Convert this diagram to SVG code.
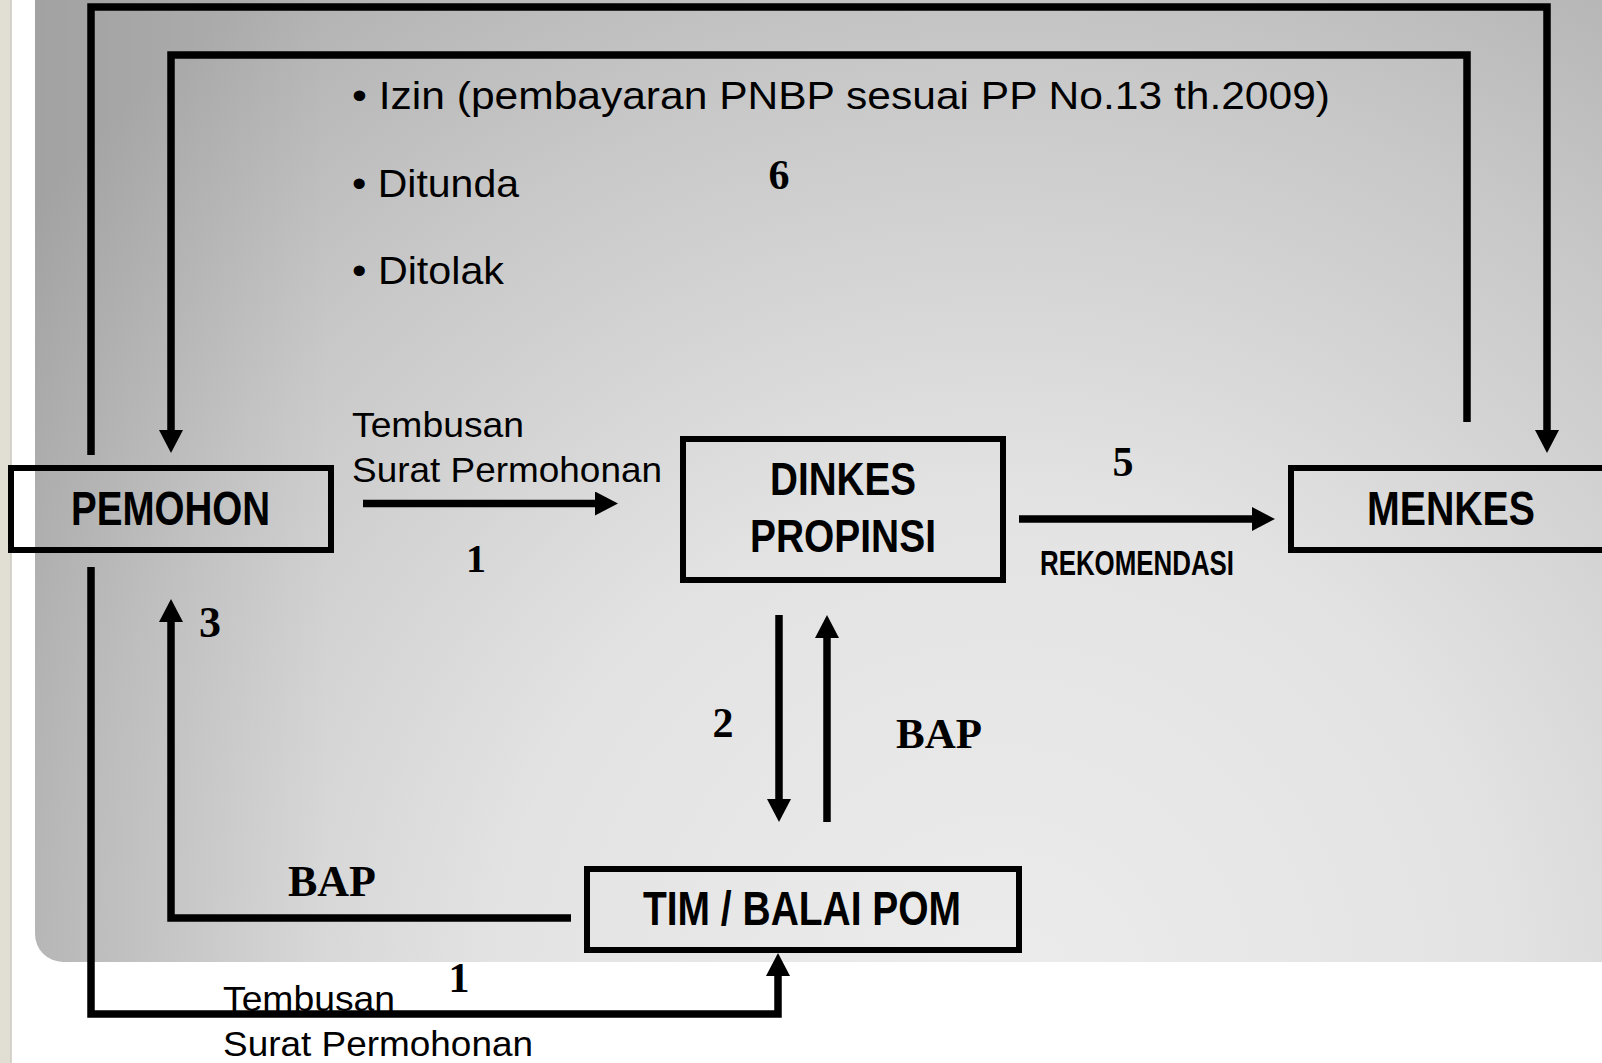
<svg xmlns="http://www.w3.org/2000/svg" width="1602" height="1063" viewBox="0 0 1602 1063">
  <defs>
    <radialGradient id="bg" gradientUnits="userSpaceOnUse" cx="1000" cy="1000" r="1250">
      <stop offset="0" stop-color="#ececec"/>
      <stop offset="0.4" stop-color="#e3e3e3"/>
      <stop offset="0.75" stop-color="#c8c8c8"/>
      <stop offset="1" stop-color="#b0b0b0"/>
    </radialGradient>
    <linearGradient id="leftShade" gradientUnits="userSpaceOnUse" x1="35" y1="0" x2="330" y2="0">
      <stop offset="0" stop-color="#000" stop-opacity="0.08"/>
      <stop offset="1" stop-color="#000" stop-opacity="0"/>
    </linearGradient>
    <marker id="ah" markerUnits="userSpaceOnUse" markerWidth="24" markerHeight="24" viewBox="0 0 23 24" refX="1" refY="12" orient="auto">
      <path d="M0,0 L23,12 L0,24 Z" fill="#000"/>
    </marker>
    <style>
      .box { fill: none; stroke: #000; stroke-width: 6; }
      .node { font-family: "Liberation Sans Narrow", "Liberation Sans", Arial, sans-serif; font-weight: bold; fill: #000; }
      .sans { font-family: "Liberation Sans", Arial, sans-serif; fill: #000; }
      .num { font-family: "Liberation Serif", "Times New Roman", serif; font-weight: bold; fill: #000; }
      .wire { fill: none; stroke: #000; stroke-width: 7.5; stroke-linejoin: miter; }
      .arr { marker-end: url(#ah); }
    </style>
  </defs>

  <!-- background -->
  <rect x="0" y="0" width="1602" height="1063" fill="#ffffff"/>
  <rect x="0" y="0" width="11" height="1063" fill="#e1ded4"/>
  <line x1="11" y1="0" x2="11" y2="1063" stroke="#cbc8be" stroke-width="1.5"/>
  <rect x="35" y="-40" width="1620" height="1002" rx="28" fill="url(#bg)"/>
  <rect x="35" y="-40" width="1620" height="1002" rx="28" fill="url(#leftShade)"/>

  <!-- nodes -->
  <g id="pemohon">
    <rect class="box" x="11" y="468" width="320" height="82"/>
    <text class="node" x="71" y="525" font-size="48" textLength="199" lengthAdjust="spacingAndGlyphs">PEMOHON</text>
  </g>
  <g id="dinkes">
    <rect class="box" x="683" y="439" width="320" height="141"/>
    <text class="node" x="770" y="495" font-size="46" textLength="146" lengthAdjust="spacingAndGlyphs">DINKES</text>
    <text class="node" x="750" y="552" font-size="46" textLength="186" lengthAdjust="spacingAndGlyphs">PROPINSI</text>
  </g>
  <g id="menkes">
    <rect class="box" x="1291" y="468" width="340" height="82"/>
    <text class="node" x="1367" y="525" font-size="48" textLength="168" lengthAdjust="spacingAndGlyphs">MENKES</text>
  </g>
  <g id="tim">
    <rect class="box" x="587" y="869" width="432" height="81"/>
    <text class="node" x="643" y="925" font-size="48" textLength="318" lengthAdjust="spacingAndGlyphs">TIM / BALAI POM</text>
  </g>

  <!-- labels -->
  <g id="labels">
    <text class="sans" x="352" y="109" font-size="39" textLength="978" lengthAdjust="spacingAndGlyphs">• Izin (pembayaran PNBP sesuai PP No.13 th.2009)</text>
    <text class="sans" x="352" y="197" font-size="39" textLength="167" lengthAdjust="spacingAndGlyphs">• Ditunda</text>
    <text class="sans" x="352" y="284" font-size="39" textLength="152" lengthAdjust="spacingAndGlyphs">• Ditolak</text>
    <text class="num" x="779" y="189" font-size="42" text-anchor="middle">6</text>

    <text class="sans" x="352" y="437" font-size="35" textLength="172" lengthAdjust="spacingAndGlyphs">Tembusan</text>
    <text class="sans" x="352" y="482" font-size="35" textLength="310" lengthAdjust="spacingAndGlyphs">Surat Permohonan</text>
    <text class="num" x="476" y="572" font-size="40" text-anchor="middle">1</text>

    <text class="num" x="1123" y="476" font-size="42" text-anchor="middle">5</text>
    <text class="node" x="1040" y="575" font-size="35" textLength="194" lengthAdjust="spacingAndGlyphs">REKOMENDASI</text>

    <text class="num" x="199" y="637" font-size="44">3</text>
    <text class="num" x="723" y="737" font-size="42" text-anchor="middle">2</text>
    <text class="num" x="896" y="748" font-size="43">BAP</text>
    <text class="num" x="288" y="896" font-size="44">BAP</text>

    <text class="num" x="459" y="992" font-size="42" text-anchor="middle">1</text>
    <text class="sans" x="223" y="1011" font-size="35" textLength="172" lengthAdjust="spacingAndGlyphs">Tembusan</text>
    <text class="sans" x="223" y="1056" font-size="35" textLength="310" lengthAdjust="spacingAndGlyphs">Surat Permohonan</text>
  </g>

  <!-- connectors -->
  <g id="connectors">
    <path class="wire arr" d="M91,455 V7 H1547 V431"/>
    <path class="wire arr" d="M1467,422 V55 H171 V431"/>
    <path class="wire arr" d="M91,567 V1014 H778 V975"/>
    <path class="wire arr" d="M571,918 H171 V621"/>
    <path class="wire arr" d="M363,503.5 H596"/>
    <path class="wire arr" d="M1019,519 H1253"/>
    <path class="wire arr" d="M779,615 V800"/>
    <path class="wire arr" d="M827,822 V637"/>
  </g>
</svg>
